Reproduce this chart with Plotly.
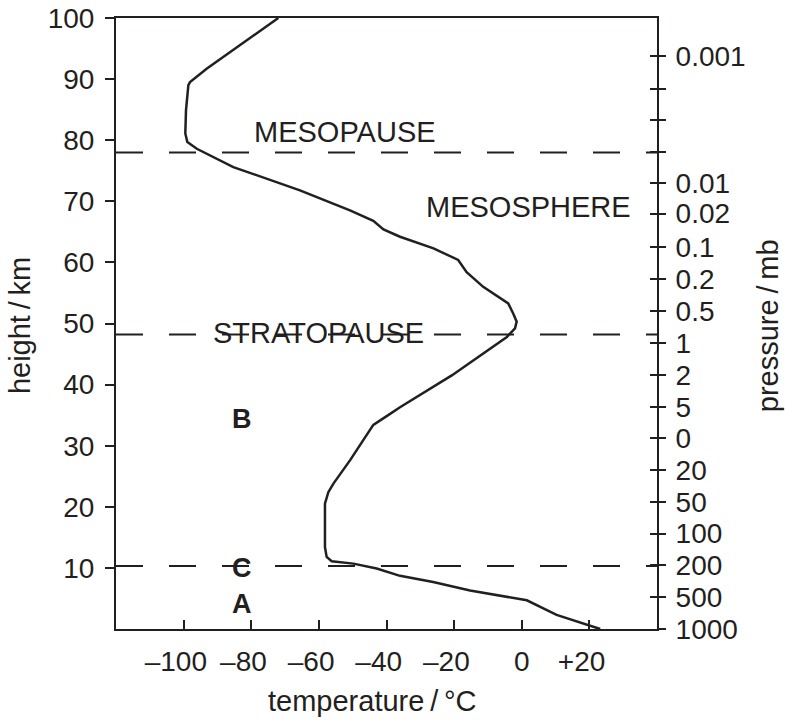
import plotly.graph_objects as go

# ---- data ----
temperature_c = [23.2, 10.3, 1.5, -15.3, -26.2, -36.0, -42.9, -49.8, -56.2, -57.7, -58.2,
                 -58.2, -57.2, -55.7, -50.8, -45.8, -43.9, -39.5, -36.0, -20.7,
                 -13.3, -4.4, -2.0, -1.5, -2.5, -4.0, -11.4, -16.3, -18.8, -26.1, -36.0,
                 -40.9, -43.9, -50.8, -65.6, -85.3, -96.1, -98.9, -99.5, -99.3, -98.6,
                 -98.1, -93.2, -77.9, -72.0]
height_km = [0.0, 2.3, 4.7, 6.3, 7.7, 8.7, 9.9, 10.7, 11.1, 11.8, 13.4,
             20.5, 22.4, 23.8, 27.6, 31.7, 33.4, 35.0, 36.3, 41.5,
             44.3, 47.8, 49.2, 50.3, 51.6, 53.3, 56.0, 58.4, 60.4, 62.3, 64.2,
             65.4, 66.8, 68.5, 71.8, 75.6, 78.6, 79.7, 81.1, 84.9, 89.0,
             89.5, 91.7, 97.7, 100.0]

boundary_heights = [10.3, 48.2, 78.0]

x_tick_values = [-100, -80, -60, -40, -20, 0, 20]
x_tick_labels = ["–100", "–80", "–60", "–40", "–20", "0", "+20"]
y_tick_values = [10, 20, 30, 40, 50, 60, 70, 80, 90, 100]

pressure_tick_heights = [0.0, 5.25, 10.4, 15.6, 20.8, 26.0, 31.2, 36.3, 41.5, 46.8,
                         52.0, 57.3, 62.5, 68.0, 73.0, 78.1, 83.3, 88.4, 93.7]
pressure_tick_labels = ["1000", "500", "200", "100", "50", "20", "0", "5", "2", "1",
                        "0.5", "0.2", "0.1", "0.02", "0.01", "", "", "", "0.001"]

layer_labels = ["MESOPAUSE", "MESOSPHERE", "STRATOPAUSE"]
layer_label_x = [-52.4, 1.9, -60.0]
layer_label_y = [81.35, 69.1, 48.4]

letter_labels = ["B", "C", "A"]
letter_x = [-82.6, -82.6, -82.6]
letter_y = [34.3, 10.0, 4.05]

# ---- styling ----
INK = "#231f20"
FONT = "Liberation Sans, Arial, Helvetica, sans-serif"
FS = 28
FS_TEXT = 29

# figure-space padding so the digits (not the sign) centre on the ticks
x_tick_text = [t + "\u2007" if t[0] in "–+" else t for t in x_tick_labels]

fig = go.Figure()
fig.add_trace(go.Scatter(x=temperature_c, y=height_km, mode="lines",
                         line=dict(color=INK, width=2.5), hoverinfo="skip",
                         showlegend=False))
# carriers so the right-hand axes are drawn
fig.add_trace(go.Scatter(x=[None], y=[None], yaxis="y2", mode="markers",
                         showlegend=False, hoverinfo="skip"))
fig.add_trace(go.Scatter(x=[None], y=[None], yaxis="y3", mode="markers",
                         showlegend=False, hoverinfo="skip"))

for h in boundary_heights:
    fig.add_shape(type="line", xref="paper", x0=0, x1=1, yref="y", y0=h, y1=h,
                  line=dict(color=INK, width=2, dash="27px,26px"), layer="above")

for txt, x, y in zip(layer_labels, layer_label_x, layer_label_y):
    fig.add_annotation(x=x, y=y, text=txt, showarrow=False,
                       font=dict(family=FONT, size=FS_TEXT, color=INK))
for txt, x, y in zip(letter_labels, letter_x, letter_y):
    fig.add_annotation(x=x, y=y, text="<b>" + txt + "</b>", showarrow=False,
                       font=dict(family=FONT, size=27, color=INK))

# axis titles
fig.add_annotation(xref="paper", yref="paper", x=-0.176, y=0.497, xanchor="center",
                   yanchor="middle", text="height\u2009/\u2009km", textangle=-90,
                   showarrow=False, font=dict(family=FONT, size=FS_TEXT, color=INK))
fig.add_annotation(xref="paper", yref="paper", x=1.205, y=0.497, xanchor="center",
                   yanchor="middle", text="pressure\u2009/\u2009mb", textangle=-90,
                   showarrow=False, font=dict(family=FONT, size=FS_TEXT, color=INK))
fig.add_annotation(xref="paper", yref="paper", x=0.474, y=-0.118, xanchor="center",
                   yanchor="middle", text="temperature\u2009/\u2009°C",
                   showarrow=False, font=dict(family=FONT, size=FS_TEXT, color=INK))

axis_common = dict(showgrid=False, zeroline=False, linecolor=INK, linewidth=2,
                   tickcolor=INK, tickwidth=2, automargin=False,
                   ticklabeloverflow="allow",
                   tickfont=dict(family=FONT, size=FS, color=INK))

fig.update_layout(
    width=785, height=724,
    margin=dict(l=116, r=128, t=18, b=95, autoexpand=False),
    paper_bgcolor="white", plot_bgcolor="white",
    font=dict(family=FONT, size=FS, color=INK),
    xaxis=dict(range=[-120, 40], tickmode="array", tickvals=x_tick_values,
               ticktext=x_tick_text, ticks="inside", ticklen=9, showline=True,
               mirror=True, ticklabelstandoff=6, tickangle=0, **axis_common),
    yaxis=dict(range=[0, 100], tickmode="array", tickvals=y_tick_values,
               ticks="outside", ticklen=9, showline=True, mirror=True,
               ticklabelstandoff=5, **axis_common),
    yaxis2=dict(range=[0, 100], overlaying="y", side="right", tickmode="array",
                tickvals=pressure_tick_heights, ticktext=pressure_tick_labels,
                ticks="outside", ticklen=7, showline=True, ticklabelstandoff=4,
                **axis_common),
    yaxis3=dict(range=[0, 100], overlaying="y", side="right", tickmode="array",
                tickvals=pressure_tick_heights, ticks="inside", ticklen=7,
                showticklabels=False, showline=False, **axis_common),
)

# the page's default 8px body margin would shift the figure; remove it
fig.write_html("out.html", config={"displayModeBar": False},
               post_script="document.body.style.margin='0';")
